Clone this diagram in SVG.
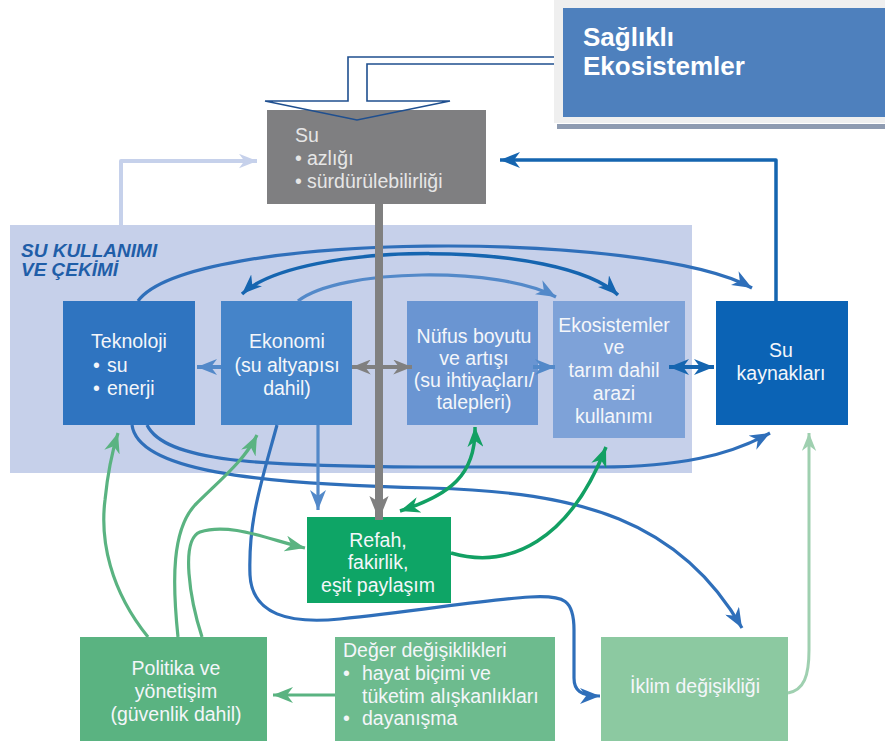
<svg xmlns="http://www.w3.org/2000/svg" width="885" height="744" viewBox="0 0 885 744">
  <style>
    .t { font-family: "Liberation Sans", Arial, sans-serif; font-size: 19.5px; fill: #f4f6fa; }
    .c { text-anchor: middle; }
    .title { font-family: "Liberation Sans", Arial, sans-serif; font-size: 26px; font-weight: bold; fill: #ffffff; }
    .panel-title { font-family: "Liberation Sans", Arial, sans-serif; font-size: 19px; font-weight: bold; font-style: italic; fill: #1f5ea8; }
    .ln { fill: none; stroke-linecap: butt; stroke-linejoin: round; }
    .blue { stroke: #2f6fba; stroke-width: 3.2; }
    .dark { stroke: #1565b0; stroke-width: 3.5; }
    .mid { stroke: #5389c9; stroke-width: 3.2; }
    .pale { stroke: #c6d1eb; stroke-width: 4; }
    .gray { stroke: #808080; stroke-width: 4; }
    .green { stroke: #12a063; stroke-width: 3.5; }
    .lgreen { stroke: #5ab381; stroke-width: 3.2; }
    .pgreen { stroke: #9fd0b0; stroke-width: 3; }
  </style>
  <defs>
    <marker id="a-blue" viewBox="0 0 20 16" refX="20" refY="8" markerWidth="20" markerHeight="16" markerUnits="userSpaceOnUse" orient="auto-start-reverse">
      <path d="M0,0 L20,8 L0,16 L6,8 Z" fill="#2f6fba"/>
    </marker>
    <marker id="a-dark" viewBox="0 0 20 16" refX="20" refY="8" markerWidth="20" markerHeight="16" markerUnits="userSpaceOnUse" orient="auto-start-reverse">
      <path d="M0,0 L20,8 L0,16 L6,8 Z" fill="#1565b0"/>
    </marker>
    <marker id="a-mid" viewBox="0 0 20 16" refX="20" refY="8" markerWidth="20" markerHeight="16" markerUnits="userSpaceOnUse" orient="auto-start-reverse">
      <path d="M0,0 L20,8 L0,16 L6,8 Z" fill="#5389c9"/>
    </marker>
    <marker id="a-pale" viewBox="0 0 20 16" refX="20" refY="8" markerWidth="18" markerHeight="15" markerUnits="userSpaceOnUse" orient="auto">
      <path d="M0,0 L20,8 L0,16 L6,8 Z" fill="#c6d1eb"/>
    </marker>
    <marker id="a-gray" viewBox="0 0 20 16" refX="20" refY="8" markerWidth="20" markerHeight="15" markerUnits="userSpaceOnUse" orient="auto">
      <path d="M0,0 L20,8 L0,16 L6,8 Z" fill="#808080"/>
    </marker>
    <marker id="a-shaft" viewBox="0 0 20 16" refX="20" refY="8" markerWidth="24" markerHeight="26" markerUnits="userSpaceOnUse" orient="auto">
      <path d="M0,0 L20,8 L0,16 L5,8 Z" fill="#808080"/>
    </marker>
    <marker id="a-green" viewBox="0 0 20 16" refX="20" refY="8" markerWidth="20" markerHeight="16" markerUnits="userSpaceOnUse" orient="auto-start-reverse">
      <path d="M0,0 L20,8 L0,16 L6,8 Z" fill="#12a063"/>
    </marker>
    <marker id="a-lgreen" viewBox="0 0 20 16" refX="20" refY="8" markerWidth="20" markerHeight="16" markerUnits="userSpaceOnUse" orient="auto">
      <path d="M0,0 L20,8 L0,16 L6,8 Z" fill="#5ab381"/>
    </marker>
    <marker id="a-pgreen" viewBox="0 0 20 16" refX="20" refY="8" markerWidth="18" markerHeight="15" markerUnits="userSpaceOnUse" orient="auto">
      <path d="M0,0 L20,8 L0,16 L6,8 Z" fill="#9fd0b0"/>
    </marker>
  </defs>

  <rect width="885" height="744" fill="#ffffff"/>

  <!-- water use and withdrawal panel -->
  <g id="panel">
    <rect x="10" y="225" width="682" height="248" fill="#c6d0ea"/>
    <text class="panel-title" x="21" y="257">SU KULLANIMI</text>
    <text class="panel-title" x="21" y="276">VE ÇEKİMİ</text>
  </g>

  <!-- healthy ecosystems -->
  <g id="saglikli-ekosistemler">
    <rect x="554" y="0" width="331" height="123" fill="#efefef"/>
    <rect x="563" y="8" width="322" height="109" fill="#4e80bd"/>
    <rect x="557" y="124" width="328" height="5" fill="#8e9bb1"/>
    <text class="title" x="583" y="46">Sağlıklı</text>
    <text class="title" x="583" y="75">Ekosistemler</text>
  </g>

  <!-- water scarcity / sustainability -->
  <g id="su">
    <rect x="267" y="110" width="219" height="94" fill="#7f7f81"/>
    <text class="t" x="295" y="142" style="fill:#e6e6e6">Su</text>
    <text class="t" x="295" y="165" style="fill:#e6e6e6">•</text>
    <text class="t" x="307" y="165" style="fill:#e6e6e6">azlığı</text>
    <text class="t" x="295" y="188" style="fill:#e6e6e6">•</text>
    <text class="t" x="307" y="188" style="fill:#e6e6e6">sürdürülebilirliği</text>
  </g>

  <g id="teknoloji">
    <rect x="63" y="301" width="132" height="124" fill="#2f74c0"/>
    <text class="t c" x="129" y="348">Teknoloji</text>
    <text class="t" x="93" y="372">•</text>
    <text class="t" x="107" y="372">su</text>
    <text class="t" x="93" y="395">•</text>
    <text class="t" x="107" y="395">enerji</text>
  </g>

  <g id="ekonomi">
    <rect x="221" y="301" width="131" height="124" fill="#4584c9"/>
    <text class="t c" x="287" y="348">Ekonomi</text>
    <text class="t c" x="287" y="372">(su altyapısı</text>
    <text class="t c" x="287" y="395">dahil)</text>
  </g>

  <g id="nufus">
    <rect x="407" y="301" width="131" height="124" fill="#6a95d2"/>
    <text class="t c" x="474" y="343">Nüfus boyutu</text>
    <text class="t c" x="474" y="365">ve artışı</text>
    <text class="t c" x="474" y="387">(su ihtiyaçları/</text>
    <text class="t c" x="474" y="409">talepleri)</text>
  </g>

  <g id="ekosistemler">
    <rect x="553" y="301" width="132" height="137" fill="#7ea2d8"/>
    <text class="t c" x="614" y="332">Ekosistemler</text>
    <text class="t c" x="614" y="354">ve</text>
    <text class="t c" x="614" y="377">tarım dahil</text>
    <text class="t c" x="614" y="400">arazi</text>
    <text class="t c" x="614" y="423">kullanımı</text>
  </g>

  <g id="su-kaynaklari">
    <rect x="716" y="301" width="132" height="124" fill="#0b63b5"/>
    <text class="t c" x="781" y="357">Su</text>
    <text class="t c" x="781" y="380">kaynakları</text>
  </g>

  <g id="refah">
    <rect x="307" y="517" width="144" height="86" fill="#0ea566"/>
    <text class="t c" x="378" y="547">Refah,</text>
    <text class="t c" x="378" y="569">fakirlik,</text>
    <text class="t c" x="378" y="592">eşit paylaşım</text>
  </g>

  <g id="politika">
    <rect x="80" y="637" width="187" height="104" fill="#5ab381"/>
    <text class="t c" x="176" y="675">Politika ve</text>
    <text class="t c" x="176" y="698">yönetişim</text>
    <text class="t c" x="176" y="721">(güvenlik dahil)</text>
  </g>

  <g id="deger">
    <rect x="335" y="637" width="220" height="104" fill="#6dbb8e"/>
    <text class="t" x="343" y="657">Değer değişiklikleri</text>
    <text class="t" x="343" y="680">•</text>
    <text class="t" x="362" y="680">hayat biçimi ve</text>
    <text class="t" x="362" y="703">tüketim alışkanlıkları</text>
    <text class="t" x="343" y="725">•</text>
    <text class="t" x="362" y="725">dayanışma</text>
  </g>

  <g id="iklim">
    <rect x="601" y="637" width="187" height="104" fill="#8cc9a1"/>
    <text class="t c" x="695" y="693">İklim değişikliği</text>
  </g>

  <g id="connectors">
    <!-- hollow arrow from healthy ecosystems -->
    <path d="M554,57 H348 V101 H265 L357,120 L450,101 H367 V64 H554" fill="none" stroke="#1f4f8f" stroke-width="1.6"/>

    <path class="ln pale" d="M121,225 V161 H257" marker-end="url(#a-pale)"/>
    <path class="ln dark" d="M776,301 V160 H500" marker-end="url(#a-dark)"/>

    <!-- curves across the top of the panel -->
    <path class="ln blue" d="M138,301 C190,230 650,230 752,288" marker-end="url(#a-blue)"/>
    <path class="ln dark" d="M242,294 C300,240 560,240 618,295" marker-start="url(#a-dark)" marker-end="url(#a-dark)"/>
    <path class="ln mid" d="M298,301 C340,268 500,266 556,297" marker-end="url(#a-mid)"/>

    <!-- curves along the bottom of the panel -->
    <path class="ln blue" d="M147,425 C165,462 260,466 420,467 L600,467 C680,467 730,455 770,433" marker-end="url(#a-blue)"/>
    <path class="ln blue" d="M132,425 C138,470 250,484 430,488 C580,492 680,520 742,628" marker-end="url(#a-blue)"/>
    <path class="ln blue" d="M277,425 C262,480 248,520 250,575 C252,615 290,624 340,619 C420,611 480,600 530,597 C565,595 574,600 574,630 L574,678 C574,690 580,696 600,696" marker-end="url(#a-blue)"/>
    <path class="ln mid" d="M318,425 V510" marker-end="url(#a-mid)"/>

    <!-- short horizontal links between nodes -->
    <path class="ln mid" style="stroke-width:4" d="M221,367 H197" marker-end="url(#a-mid)"/>
    <path class="ln mid" style="stroke-width:4" d="M533,367 H555" marker-end="url(#a-mid)"/>
    <path class="ln dark" style="stroke-width:4" d="M669,367 H714" marker-start="url(#a-dark)" marker-end="url(#a-dark)"/>

    <!-- main gray flow -->
    <path class="ln gray" style="stroke-width:8" d="M379,204 V520" marker-end="url(#a-shaft)"/>
    <path class="ln gray" d="M375,367 H352" marker-end="url(#a-gray)"/>
    <path class="ln gray" d="M383,367 H412" marker-end="url(#a-gray)"/>

    <!-- green links -->
    <path class="ln green" d="M400,511 C450,495 476,475 475,427" marker-start="url(#a-green)" marker-end="url(#a-green)"/>
    <path class="ln green" d="M451,553 C510,570 570,540 606,447" marker-end="url(#a-green)"/>
    <path class="ln lgreen" d="M148,637 C110,590 100,540 105,500 C108,470 112,452 118,433" marker-end="url(#a-lgreen)"/>
    <path class="ln lgreen" d="M178,637 C172,580 172,530 195,505 C220,480 245,460 257,435" marker-end="url(#a-lgreen)"/>
    <path class="ln lgreen" d="M202,637 C190,600 180,540 200,532 C230,522 270,540 305,548" marker-end="url(#a-lgreen)"/>
    <path class="ln lgreen" d="M335,695 H273" marker-end="url(#a-lgreen)"/>
    <path class="ln pgreen" d="M788,693 C804,690 809,676 809,650 V433" marker-end="url(#a-pgreen)"/>
  </g>
</svg>
